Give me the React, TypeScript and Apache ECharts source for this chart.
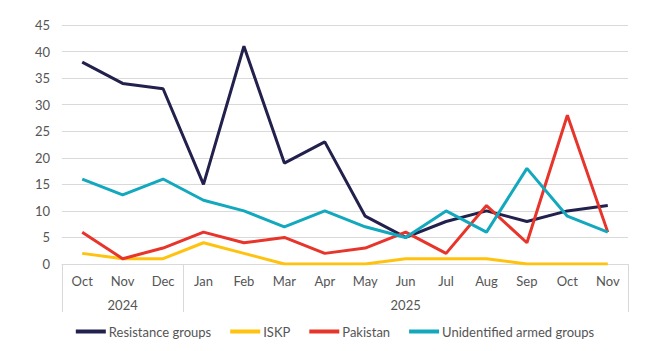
import React, { useEffect, useRef } from "react";
import * as echarts from "echarts";

const months = ["Oct", "Nov", "Dec", "Jan", "Feb", "Mar", "Apr", "May", "Jun", "Jul", "Aug", "Sep", "Oct", "Nov"];
const yearGroups = [
  { year: "2024", count: 3 },
  { year: "2025", count: 11 },
];
const yTicks = { min: 0, max: 45, interval: 5 };

const resistance = [38, 34, 33, 15, 41, 19, 23, 9, 5, 8, 10, 8, 10, 11];
const iskp = [2, 1, 1, 4, 2, 0, 0, 0, 1, 1, 1, 0, 0, 0];
const pakistan = [6, 1, 3, 6, 4, 5, 2, 3, 6, 2, 11, 4, 28, 6];
const unidentified = [16, 13, 16, 12, 10, 7, 10, 7, 5, 10, 6, 18, 9, 6];

const seriesDefs = [
  { name: "Resistance groups", data: resistance, color: "#22204d" },
  { name: "ISKP", data: iskp, color: "#ffc20e" },
  { name: "Pakistan", data: pakistan, color: "#e8352b" },
  { name: "Unidentified armed groups", data: unidentified, color: "#12a8bd" },
];

const FONT = "Lato, 'Noto Sans', sans-serif";
const TEXT = "#555555";
const GRID = "#d9d9d9";

export default function App() {
  const ref = useRef<HTMLDivElement>(null);
  useEffect(() => {
    if (!ref.current) return;
    const chart = echarts.init(ref.current, undefined, { renderer: "svg" });

    const yearLabels: string[] = new Array(months.length).fill("");
    const groupStarts: number[] = [];
    let start = 0;
    yearGroups.forEach((g) => {
      groupStarts.push(start);
      const center = start + Math.floor((g.count - 1) / 2);
      yearLabels[center] = g.year;
      start += g.count;
    });

    chart.setOption({
      animation: false,
      textStyle: { fontFamily: FONT },
      grid: { left: 62, right: 42, top: 25, bottom: 87, containLabel: false },
      legend: {
        left: "center",
        top: 320,
        icon: "rect",
        itemWidth: 30,
        itemHeight: 4,
        itemGap: 19,
        textStyle: { color: TEXT, fontSize: 13, fontFamily: FONT, padding: [0, 0, 0, -2] },
        data: seriesDefs.map((s) => s.name),
      },
      xAxis: [
        {
          type: "category",
          data: months,
          boundaryGap: true,
          axisLine: { show: true, lineStyle: { color: GRID, width: 1 } },
          axisTick: {
            show: true,
            length: 48,
            interval: (i: number) => groupStarts.includes(i),
            lineStyle: { color: GRID, width: 1 },
          },
          axisLabel: { color: TEXT, fontSize: 13, margin: 10, interval: 0, fontFamily: FONT },
        },
        {
          type: "category",
          data: yearLabels,
          position: "bottom",
          boundaryGap: true,
          axisLine: { show: false },
          axisTick: { show: false },
          axisLabel: { color: TEXT, fontSize: 13, margin: 34, interval: 0, fontFamily: FONT },
        },
      ],
      yAxis: {
        type: "value",
        min: yTicks.min,
        max: yTicks.max,
        interval: yTicks.interval,
        axisLine: { show: false },
        axisTick: { show: false },
        axisLabel: { color: TEXT, fontSize: 13, margin: 12, fontFamily: FONT },
        splitLine: { lineStyle: { color: GRID, width: 1 } },
      },
      series: seriesDefs.map((s) => ({
        name: s.name,
        type: "line",
        data: s.data,
        xAxisIndex: 0,
        showSymbol: false,
        symbol: "none",
        color: s.color,
        lineStyle: { color: s.color, width: 3 },
      })),
    });
    return () => chart.dispose();
  }, []);
  return <div ref={ref} style={{ width: 670, height: 351, margin: -8 }} />;
}
